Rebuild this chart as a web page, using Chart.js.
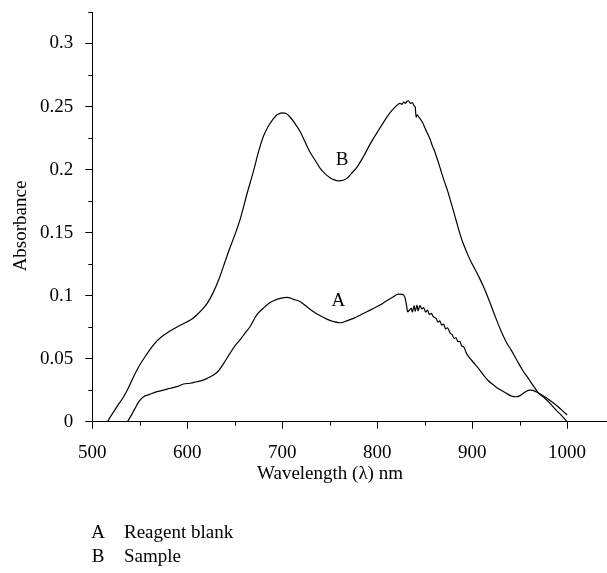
<!DOCTYPE html>
<html><head><meta charset="utf-8">
<script src="https://cdn.jsdelivr.net/npm/chart.js@4/dist/chart.umd.min.js"></script>
<style>html,body{margin:0;padding:0;background:#fff;} canvas{display:block;}</style>
</head><body>
<canvas id="c" width="607" height="573"></canvas>
<script>
// Curve A: reagent blank
const wavelengthA = [537,541,545,549,554,560,568,575,582,590,596,603,610,616,621,627,633,639,645,650,656,661,666,673,680,686,691,698,705,712,719,726,733,740,747,754,761,768,775,782,789,796,803,810,817,822,826,829,831,832,834,836,837,839,840,842,843,845,847,849,851,853,855,857,859,862,864,866,868,870,872,874,877,879,881,883,885,887,889,891,894,898,903,908,912,917,922,926,930,936,941,946,950,955,960,964,968,972,976,981,986,991,995,1000];
const absorbanceA = [0,0.005,0.0106,0.016,0.0198,0.0215,0.0238,0.025,0.0265,0.028,0.0299,0.0305,0.0317,0.0328,0.0344,0.0368,0.0404,0.047,0.0542,0.06,0.0653,0.0705,0.0753,0.0846,0.09,0.094,0.096,0.0978,0.0987,0.097,0.0952,0.0912,0.0872,0.084,0.0814,0.0795,0.0785,0.08,0.082,0.0845,0.0872,0.0898,0.0925,0.096,0.0991,0.1012,0.101,0.099,0.092,0.0872,0.0885,0.09,0.087,0.092,0.0875,0.0925,0.088,0.092,0.0895,0.0905,0.087,0.0885,0.085,0.086,0.0833,0.082,0.079,0.08,0.0765,0.0775,0.0735,0.0745,0.0701,0.069,0.066,0.0668,0.0635,0.0638,0.06,0.0595,0.0542,0.05,0.0455,0.041,0.037,0.0325,0.0295,0.027,0.0251,0.0225,0.0205,0.0198,0.0205,0.0232,0.0251,0.0248,0.0235,0.022,0.02,0.0175,0.0146,0.0115,0.0088,0.0053];
// Curve B: sample
const wavelengthB = [516,520,526,533,540,545,550,556,563,568,573,579,585,592,600,605,610,615,621,627,633,638,644,650,656,663,670,675,680,685,691,695,700,704,708,713,719,724,729,735,740,745,750,755,759,764,768,773,779,786,793,800,807,814,818,821,824,826,828,830,831,833,835,837,839,840,841,842,844,846,848,850,852,854,856,858,860,863,866,868,871,874,877,880,883,886,890,894,898,903,908,912,918,924,930,936,941,947,953,959,965,970,976,982,988,994,1000];
const absorbanceB = [0,0.005,0.012,0.0198,0.03,0.038,0.045,0.052,0.0595,0.064,0.0674,0.0705,0.0733,0.0763,0.0793,0.0815,0.0846,0.0885,0.0939,0.102,0.1124,0.123,0.136,0.148,0.1613,0.181,0.1996,0.214,0.226,0.234,0.2406,0.2437,0.245,0.2445,0.2419,0.237,0.23,0.222,0.2141,0.207,0.201,0.1968,0.1938,0.1918,0.1911,0.1915,0.193,0.197,0.2022,0.211,0.2208,0.2295,0.2379,0.2455,0.249,0.2511,0.2525,0.2518,0.2535,0.2525,0.254,0.2546,0.2525,0.2532,0.2505,0.2498,0.2415,0.2435,0.2415,0.2395,0.237,0.2335,0.23,0.227,0.2235,0.219,0.2155,0.209,0.202,0.197,0.19,0.1835,0.1758,0.168,0.16,0.152,0.1425,0.135,0.128,0.121,0.1135,0.107,0.096,0.084,0.0727,0.063,0.057,0.0489,0.041,0.0345,0.0278,0.0225,0.019,0.0146,0.0095,0.005,0];

const xTicks = [500,600,700,800,900,1000];
const xMinorTicks = [550,650,750,850,950];
const yTicks = [0,0.05,0.1,0.15,0.2,0.25,0.3];
const yTickLabels = ['0','0.05','0.1','0.15','0.2','0.25','0.3'];
const yMinorTicks = [0.025,0.075,0.125,0.175,0.225,0.275,0.325];
const seriesLetters = ['A','B'];
const seriesNames = ['Reagent blank','Sample'];
const curveLabelX = [759,763];
const curveLabelY = [0.096,0.2074];
const xTitle = 'Wavelength (\u03BB) nm';
const yTitle = 'Absorbance';

const FONT = "'Liberation Serif', 'DejaVu Serif', serif";
const FSIZE = 19;

const extras = {
  id: 'extras',
  afterDraw(chart) {
    const ctx = chart.ctx;
    const xs = chart.scales.x, ys = chart.scales.y;
    const area = chart.chartArea;
    ctx.save();
    ctx.strokeStyle = '#000';
    ctx.lineWidth = 1;
    // minor ticks
    xMinorTicks.forEach(v => {
      const px = Math.round(xs.getPixelForValue(v)) + 0.5;
      ctx.beginPath(); ctx.moveTo(px, area.bottom); ctx.lineTo(px, area.bottom + 4); ctx.stroke();
    });
    yMinorTicks.forEach(v => {
      const py = Math.round(ys.getPixelForValue(v)) + 0.5;
      ctx.beginPath(); ctx.moveTo(area.left - 4, py); ctx.lineTo(area.left, py); ctx.stroke();
    });
    ctx.fillStyle = '#000';
    ctx.font = FSIZE + 'px ' + FONT;
    ctx.textBaseline = 'middle';
    // curve labels
    ctx.textAlign = 'center';
    seriesLetters.forEach((s, i) => {
      ctx.fillText(s, xs.getPixelForValue(curveLabelX[i]), ys.getPixelForValue(curveLabelY[i]));
    });
    // axis titles
    ctx.fillText(xTitle, 330, 474);
    ctx.save();
    ctx.translate(21, 226);
    ctx.rotate(-Math.PI / 2);
    ctx.fillText(yTitle, 0, 0);
    ctx.restore();
    // key below the chart
    seriesLetters.forEach((s, i) => {
      const y = 533 + i * 24;
      ctx.textAlign = 'center';
      ctx.fillText(s, 98, y);
      ctx.textAlign = 'left';
      ctx.fillText(seriesNames[i], 124, y);
    });
    ctx.restore();
  }
};

const lineStyle = {borderColor: '#000', borderWidth: 1.2, pointRadius: 0, fill: false, cubicInterpolationMode: 'monotone'};

new Chart(document.getElementById('c'), {
  type: 'line',
  data: {
    datasets: [
      Object.assign({label: seriesNames[0], data: wavelengthA.map((x, i) => ({x: x, y: absorbanceA[i]}))}, lineStyle),
      Object.assign({label: seriesNames[1], data: wavelengthB.map((x, i) => ({x: x, y: absorbanceB[i]}))}, lineStyle)
    ]
  },
  options: {
    responsive: false,
    animation: false,
    devicePixelRatio: 1,
    layout: {padding: {top: 12, left: 0, right: 0, bottom: 0}},
    plugins: {legend: {display: false}, tooltip: {enabled: false}},
    scales: {
      x: {
        type: 'linear', min: 500, max: 1042,
        afterBuildTicks: s => { s.ticks = xTicks.map(v => ({value: v})); },
        afterFit: s => { s.height = 151.3; s.paddingLeft = 0; s.paddingRight = 0; },
        grid: {drawOnChartArea: false, drawTicks: true, tickLength: 7, color: '#000', tickColor: '#000'},
        border: {display: true, color: '#000', width: 1},
        ticks: {color: '#000', padding: 13, maxRotation: 0, font: {family: FONT, size: FSIZE}, callback: v => String(v)}
      },
      y: {
        type: 'linear', min: 0, max: 0.325,
        afterBuildTicks: s => { s.ticks = yTicks.map(v => ({value: v})); },
        afterFit: s => { s.width = 92.3; s.paddingTop = 0; s.paddingBottom = 0; },
        grid: {drawOnChartArea: false, drawTicks: true, tickLength: 7, color: '#000', tickColor: '#000'},
        border: {display: true, color: '#000', width: 1},
        ticks: {color: '#000', padding: 12, font: {family: FONT, size: FSIZE}, callback: v => yTickLabels[yTicks.indexOf(v)]}
      }
    }
  },
  plugins: [extras]
});
</script>
</body></html>
